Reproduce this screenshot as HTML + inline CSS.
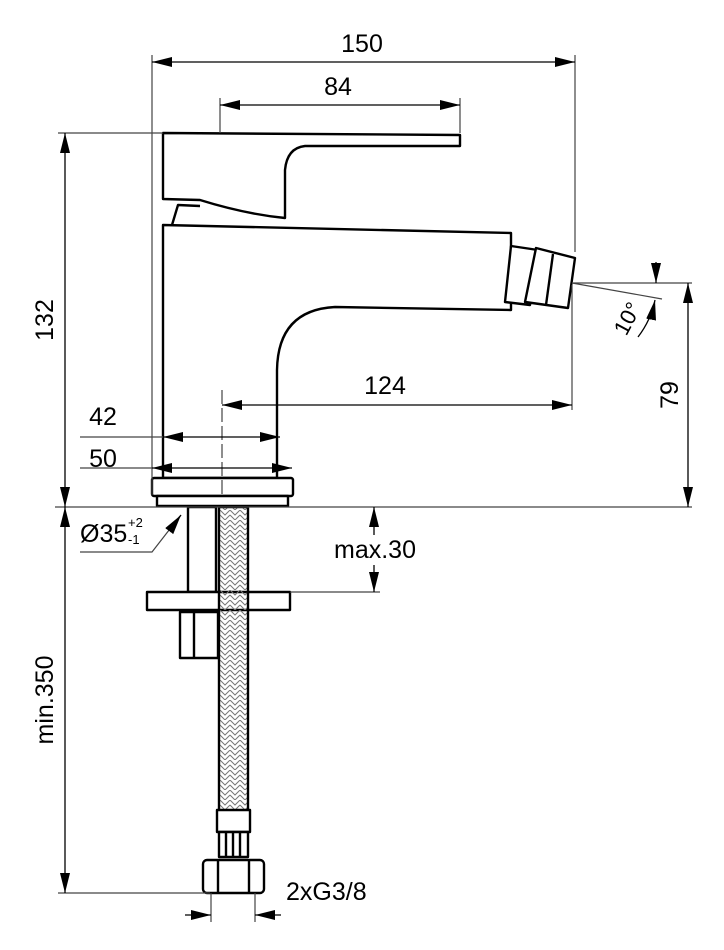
<!DOCTYPE html>
<html><head><style>body{margin:0;background:#fff}svg{display:block}</style></head><body>
<svg width="724" height="950" viewBox="0 0 724 950" xmlns="http://www.w3.org/2000/svg" font-family="Liberation Sans, sans-serif">
<defs>
<marker id="a" viewBox="0 0 10 10" refX="10" refY="5" markerWidth="20" markerHeight="10" orient="auto-start-reverse" markerUnits="userSpaceOnUse" preserveAspectRatio="none"><path d="M0,0L10,5L0,10z" fill="#000"/></marker>
<pattern id="br" width="10" height="10" patternUnits="userSpaceOnUse"><path d="M0,0L5,5L10,0M0,5L5,10L10,5" stroke="#777" stroke-width="1" fill="none"/></pattern>
</defs>
<g stroke="#000" stroke-width="2.4" fill="#fff" stroke-linejoin="round">
<path d="M163,133 L460,135 L460,146 L305,146 Q287,148 285,170 L285,218 Q245,214 200,200 L163,199 Z"/>
<path d="M172,225 L178,205 L200,206" fill="none"/>
<path d="M163,225 L511,233 L511,310 L335,307 Q278,310 277,370 L277,478 L163,478 Z"/>
<path d="M511,246 L538,250 L530,305 L505,302 Z"/>
<path d="M536,248 L575,258 L568,308 L525,302 Z"/>
<line x1="553" y1="254" x2="546" y2="305"/>
<rect x="152" y="478" width="141" height="18" rx="2"/>
<rect x="157" y="496" width="131" height="10"/>
<rect x="188" y="507" width="28" height="85"/>
<rect x="147" y="592" width="143" height="18"/>
<rect x="180" y="612" width="38" height="46"/>
<line x1="194" y1="612" x2="194" y2="658"/>
<rect x="219" y="507" width="29" height="305" fill="url(#br)"/>
<rect x="217" y="810" width="33" height="22"/>
<rect x="219" y="832" width="29" height="25"/>
<line x1="226" y1="832" x2="226" y2="857"/><line x1="233" y1="832" x2="233" y2="857"/><line x1="240" y1="832" x2="240" y2="857"/>
<rect x="203" y="860" width="61" height="33" rx="4"/>
<line x1="218" y1="860" x2="218" y2="893"/><line x1="249" y1="860" x2="249" y2="893"/>
</g>
<g stroke="#444" stroke-width="1.2" fill="none">
<line x1="152" y1="55" x2="152" y2="495"/>
<line x1="575" y1="55" x2="575" y2="252"/>
<line x1="572" y1="285" x2="572" y2="410"/>
<line x1="220" y1="98" x2="220" y2="133"/>
<line x1="460" y1="98" x2="460" y2="133"/>
<line x1="58" y1="133" x2="163" y2="133"/>
<line x1="55" y1="507" x2="692" y2="507"/>
<line x1="572" y1="283" x2="692" y2="283"/>
<line x1="572" y1="283" x2="662" y2="299"/>
<line x1="290" y1="592" x2="380" y2="592"/>
<line x1="58" y1="893" x2="210" y2="893"/>
<line x1="211" y1="893" x2="211" y2="922"/>
<line x1="255" y1="893" x2="255" y2="922"/>
<line x1="80" y1="437" x2="163" y2="437"/>
<line x1="80" y1="468" x2="152" y2="468"/>
<line x1="222" y1="390" x2="222" y2="495" stroke-dasharray="14,4"/>
<path d="M80,552 L152,552 L180,516"/>
</g>
<g stroke="#000" stroke-width="1.3" fill="none">
<line x1="152" y1="62" x2="575" y2="62" marker-start="url(#a)" marker-end="url(#a)"/>
<line x1="220" y1="105" x2="460" y2="105" marker-start="url(#a)" marker-end="url(#a)"/>
<line x1="65" y1="133" x2="65" y2="507" marker-start="url(#a)" marker-end="url(#a)"/>
<line x1="65" y1="507" x2="65" y2="893" marker-start="url(#a)" marker-end="url(#a)"/>
<line x1="688" y1="283" x2="688" y2="507" marker-start="url(#a)" marker-end="url(#a)"/>
<line x1="222" y1="405" x2="572" y2="405" marker-start="url(#a)" marker-end="url(#a)"/>
<line x1="163" y1="437" x2="280" y2="437" marker-start="url(#a)" marker-end="url(#a)"/>
<line x1="152" y1="468" x2="292" y2="468" marker-start="url(#a)" marker-end="url(#a)"/>
<line x1="374" y1="535" x2="374" y2="507" marker-end="url(#a)"/>
<line x1="374" y1="565" x2="374" y2="592" marker-end="url(#a)"/>
<line x1="185" y1="915" x2="211" y2="915" marker-end="url(#a)"/>
<line x1="281" y1="915" x2="255" y2="915" marker-end="url(#a)"/>
<line x1="170" y1="530" x2="181" y2="515" marker-end="url(#a)"/>
<line x1="656" y1="262" x2="656" y2="283" marker-end="url(#a)"/>
<path d="M638,337 Q651,320 655,300" marker-end="url(#a)"/>
</g>
<g fill="#000" font-size="25">
<text x="362" y="52" text-anchor="middle">150</text>
<text x="338" y="95" text-anchor="middle">84</text>
<text x="385" y="394" text-anchor="middle">124</text>
<text x="103" y="425" text-anchor="middle">42</text>
<text x="103" y="467" text-anchor="middle">50</text>
<text x="375" y="558" text-anchor="middle">max.30</text>
<text x="286" y="900">2xG3/8</text>
<text x="80" y="542">Ø35</text>
<text x="128" y="527" font-size="13">+2</text>
<text x="128" y="544" font-size="13">-1</text>
<text transform="translate(53,320) rotate(-90)" text-anchor="middle">132</text>
<text transform="translate(53,700) rotate(-90)" text-anchor="middle">min.350</text>
<text transform="translate(678,395) rotate(-90)" text-anchor="middle">79</text>
<text transform="translate(634,322) rotate(-62)" text-anchor="middle" font-size="22">10°</text>
</g>
</svg>
</body></html>
